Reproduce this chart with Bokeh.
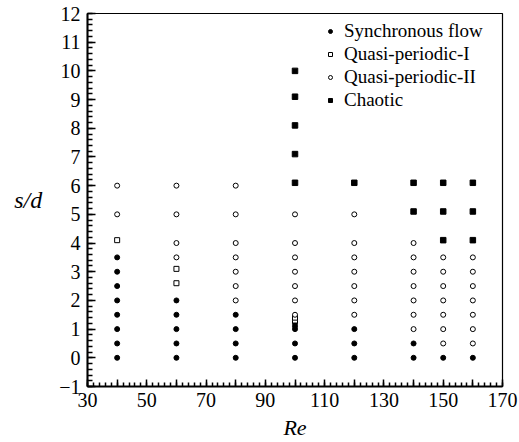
from bokeh.plotting import figure
from bokeh.models import FixedTicker, Legend, LegendItem
from bokeh.embed import file_html
from bokeh.resources import INLINE

# Synchronous flow (filled circles)
sync_re = [40]*8 + [60]*5 + [80]*4 + [100]*5 + [120]*3 + [140]*2 + [150] + [160]
sync_sd = [0, 0.5, 1, 1.5, 2, 2.5, 3, 3.5,
           0, 0.5, 1, 1.5, 2,
           0, 0.5, 1, 1.5,
           0, 0.5, 1.0, 1.1, 1.2,
           0, 0.5, 1,
           0, 0.5,
           0,
           0]
# Quasi-periodic-I (open squares)
qp1_re = [40, 60, 60, 100, 100]
qp1_sd = [4.1, 2.6, 3.1, 1.3, 1.4]
# Quasi-periodic-II (open circles)
qp2_re = [40]*2 + [60]*4 + [80]*7 + [100]*7 + [120]*7 + [140]*7 + [150]*7 + [160]*7
qp2_sd = [5, 6,
          3.5, 4, 5, 6,
          2, 2.5, 3, 3.5, 4, 5, 6,
          1.5, 2, 2.5, 3, 3.5, 4, 5,
          1.5, 2, 2.5, 3, 3.5, 4, 5,
          1, 1.5, 2, 2.5, 3, 3.5, 4,
          0.5, 1, 1.5, 2, 2.5, 3, 3.5,
          0.5, 1, 1.5, 2, 2.5, 3, 3.5]
# Chaotic (filled squares)
ch_re = [100]*5 + [120] + [140]*2 + [150]*3 + [160]*3
ch_sd = [6.1, 7.1, 8.1, 9.1, 10.0,
         6.1,
         5.1, 6.1,
         4.1, 5.1, 6.1,
         4.1, 5.1, 6.1]

x_major = list(range(30, 171, 10))
x_labels = {30: "30", 50: "50", 70: "70", 90: "90", 110: "110", 130: "130", 150: "150", 170: "170"}
y_major = list(range(-1, 13))

FONT = "Liberation Serif"

p = figure(width=519, height=442, x_range=(30, 170), y_range=(-1, 12),
           output_backend="svg", toolbar_location=None,
           min_border_left=87, min_border_right=17, min_border_top=13, min_border_bottom=56)
p.background_fill_color = "white"
p.border_fill_color = "white"
p.xgrid.visible = False
p.ygrid.visible = False
p.outline_line_color = "black"
p.outline_line_width = 1.2

r_sync = p.scatter(sync_re, sync_sd, marker="circle", size=5, fill_color="black", line_color="black")
r_qp1 = p.scatter(qp1_re, qp1_sd, marker="square", size=5, fill_color="white", line_color="black", line_width=1)
r_qp2 = p.scatter(qp2_re, qp2_sd, marker="circle", size=5, fill_color="white", line_color="black", line_width=1)
r_ch = p.scatter(ch_re, ch_sd, marker="square", size=5.5, fill_color="black", line_color="black")

xa = p.xaxis[0]
xa.ticker = FixedTicker(ticks=x_major, minor_ticks=list(range(30, 171, 2)))
xa.major_label_overrides = {t: x_labels.get(t, "") for t in x_major}
xa.major_tick_in = 7
xa.major_tick_out = 0
xa.minor_tick_in = 4
xa.minor_tick_out = 0
xa.axis_line_width = 2
xa.major_tick_line_width = 1.5
xa.minor_tick_line_width = 1.5
xa.major_label_standoff = 6
xa.major_label_text_font = FONT
xa.major_label_text_font_size = "20px"
xa.major_label_text_color = "black"
xa.axis_label = "Re"
xa.axis_label_text_font = FONT
xa.axis_label_text_font_style = "italic"
xa.axis_label_text_font_size = "22px"
xa.axis_label_standoff = 5
xa.axis_label_text_color = "black"

ya = p.yaxis[0]
ya.ticker = FixedTicker(ticks=y_major, minor_ticks=[round(-1 + 0.2 * i, 1) for i in range(66)])
ya.major_label_overrides = {-1: "\u22121"}
ya.major_tick_in = 8
ya.major_tick_out = 0
ya.minor_tick_in = 5
ya.minor_tick_out = 0
ya.axis_line_width = 2
ya.major_tick_line_width = 1.5
ya.minor_tick_line_width = 1.5
ya.major_label_standoff = 7
ya.major_label_text_font = FONT
ya.major_label_text_font_size = "20px"
ya.major_label_text_color = "black"
ya.axis_label = "s/d"
ya.axis_label_orientation = "horizontal"
ya.axis_label_text_font = FONT
ya.axis_label_text_font_style = "italic"
ya.axis_label_text_font_size = "24px"
ya.axis_label_standoff = 14
ya.axis_label_text_color = "black"

legend = Legend(items=[
    LegendItem(label="Synchronous flow", renderers=[r_sync]),
    LegendItem(label="Quasi-periodic-I", renderers=[r_qp1]),
    LegendItem(label="Quasi-periodic-II", renderers=[r_qp2]),
    LegendItem(label="Chaotic", renderers=[r_ch]),
], location=(238, 275))
legend.border_line_color = None
legend.background_fill_alpha = 0
legend.padding = 0
legend.margin = 0
legend.spacing = 1
legend.label_height = 20
legend.glyph_height = 20
legend.glyph_width = 10
legend.label_standoff = 9
legend.label_text_font = FONT
legend.label_text_font_size = "19px"
legend.label_text_color = "black"
p.add_layout(legend)

open("out.html", "w").write(file_html(p, INLINE))
